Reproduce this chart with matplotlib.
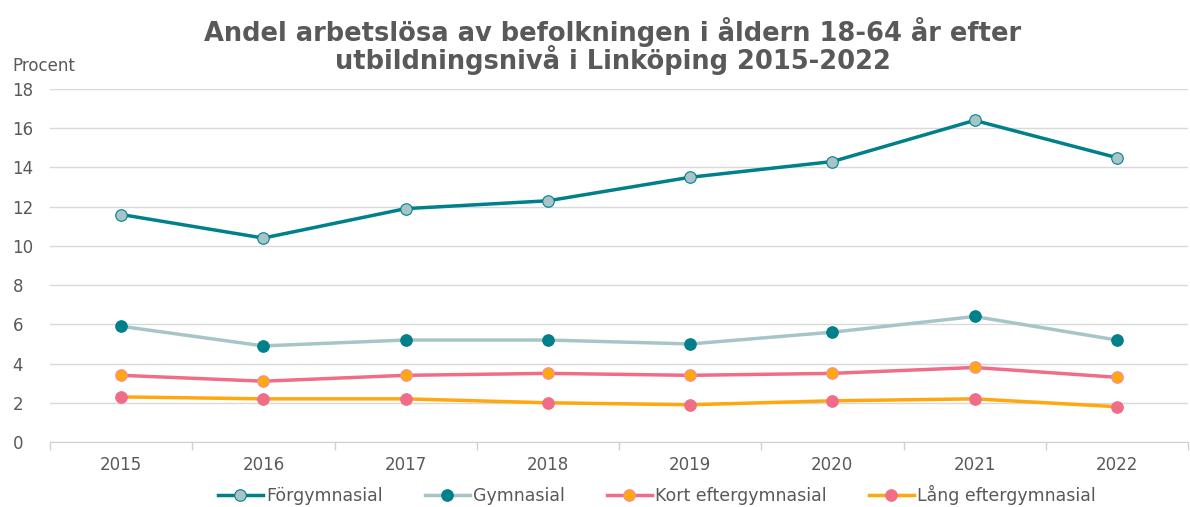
import numpy as np
import matplotlib.pyplot as plt

plt.rcParams['font.family'] = ['DejaVu Sans']

years = ['2015', '2016', '2017', '2018', '2019', '2020', '2021', '2022']
forgymnasial = [11.6, 10.4, 11.9, 12.3, 13.5, 14.3, 16.4, 14.5]
gymnasial = [5.9, 4.9, 5.2, 5.2, 5.0, 5.6, 6.4, 5.2]
kort_efter = [3.4, 3.1, 3.4, 3.5, 3.4, 3.5, 3.8, 3.3]
lang_efter = [2.3, 2.2, 2.2, 2.0, 1.9, 2.1, 2.2, 1.8]

teal = '#00808A'
light = '#A7C5C9'
pink = '#F06C87'
orange = '#FFA70F'
textc = '#595959'

fig = plt.figure(figsize=(11.9, 5.07), dpi=100)
ax = fig.add_axes([50 / 1190, 1 - 442 / 507, 1138 / 1190, 353 / 507])

x = np.arange(len(years))
# name, values, line colour, marker fill, marker edge
series = [
    ('Förgymnasial', forgymnasial, teal, light, teal),
    ('Gymnasial', gymnasial, light, teal, teal),
    ('Kort eftergymnasial', kort_efter, pink, orange, '#F58CA0'),
    ('Lång eftergymnasial', lang_efter, orange, pink, pink),
]
for name, vals, lc, mc, ec in series:
    ax.plot(x, vals, color=lc, lw=2.5, marker='o', ms=8.3,
            markerfacecolor=mc, markeredgecolor=ec,
            markeredgewidth=0.8, label=name)

ax.set_xlim(-0.5, len(years) - 0.5)
ax.set_ylim(0, 18)
ax.set_yticks(range(0, 19, 2))
ax.set_xticks(x)
ax.set_xticklabels(years)
ax.set_xticks(np.arange(-0.5, len(years), 1), minor=True)
ax.tick_params(axis='x', which='major', length=0, pad=10, labelsize=12, labelcolor=textc)
ax.tick_params(axis='x', which='minor', length=6, color='#D0D0D0', width=1)
ax.tick_params(axis='y', length=0, pad=27, labelsize=12, labelcolor=textc)
for lab in ax.get_yticklabels():
    lab.set_horizontalalignment('left')

ax.grid(axis='y', color='#D9D9D9', lw=1)
ax.set_axisbelow(True)
for s in ['top', 'right', 'left']:
    ax.spines[s].set_visible(False)
ax.spines['bottom'].set_color('#D0D0D0')

fig.text(12 / 1190, 1 - 66 / 507, 'Procent', fontsize=12, color=textc, va='center')
fig.text(0.515, 1 - 46 / 507,
         'Andel arbetslösa av befolkningen i åldern 18-64 år efter\nutbildningsnivå i Linköping 2015-2022',
         fontsize=18.5, fontweight='bold', color=textc, ha='center', va='center',
         linespacing=0.95)

fig.legend(loc='center', bbox_to_anchor=(0.552, 1 - 495 / 507), ncol=4, frameon=False,
           fontsize=12.5, labelcolor=textc, handlelength=2.6, columnspacing=2.4,
           handletextpad=0.2)

fig.savefig('out.png', dpi=100)
